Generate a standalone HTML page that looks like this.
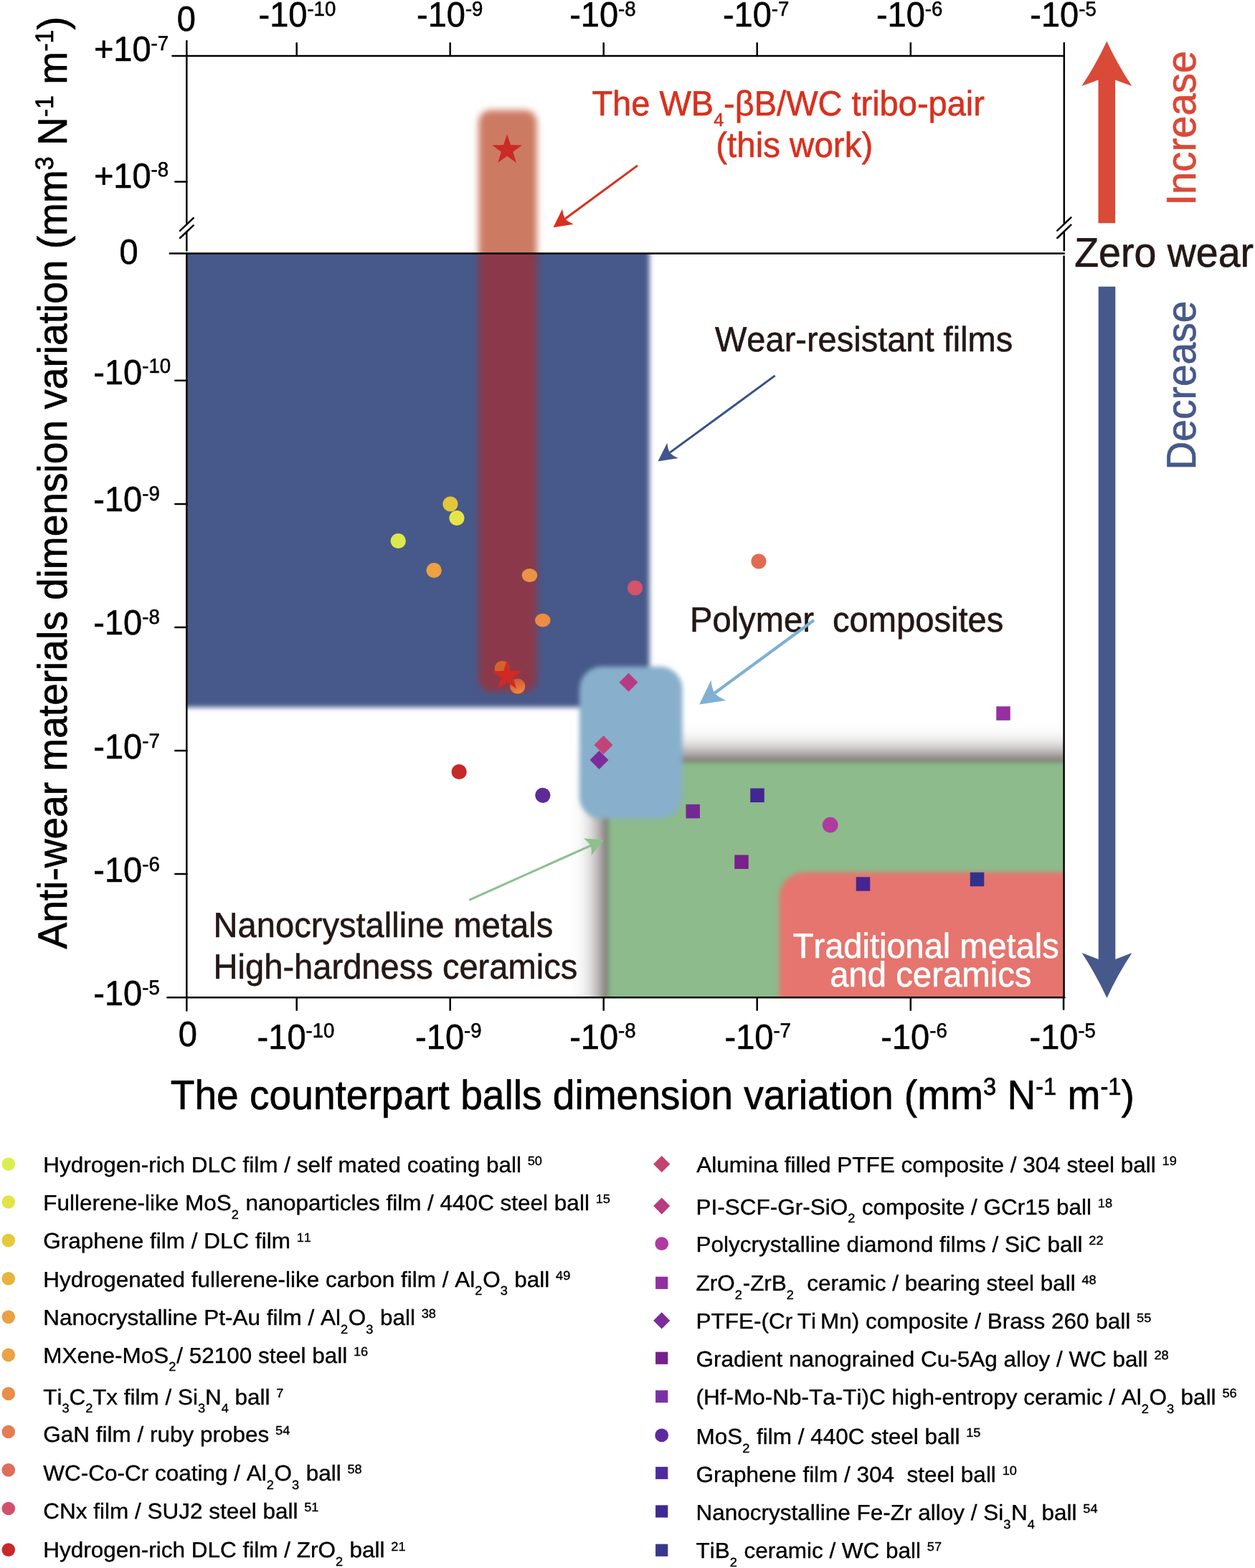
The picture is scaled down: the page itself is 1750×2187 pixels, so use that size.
<!DOCTYPE html>
<html lang="en"><head><meta charset="utf-8"><title>Wear map</title>
<style>html,body{margin:0;padding:0;background:#fff}body{width:1750px;height:2187px;overflow:hidden}svg{display:block}text{font-family:"Liberation Sans", sans-serif;font-kerning:none;text-rendering:geometricPrecision}</style></head><body>
<svg width="1750" height="2187" viewBox="0 0 1750 2187">
<defs>
<filter id="b15" x="-10%" y="-10%" width="120%" height="120%" color-interpolation-filters="sRGB"><feGaussianBlur stdDeviation="1.5"/></filter>
<filter id="b3" x="-30%" y="-30%" width="160%" height="160%" color-interpolation-filters="sRGB"><feGaussianBlur stdDeviation="3"/></filter>
<filter id="b35" x="-30%" y="-30%" width="160%" height="160%" color-interpolation-filters="sRGB"><feGaussianBlur stdDeviation="3.5"/></filter>
<filter id="b4" x="-30%" y="-30%" width="160%" height="160%" color-interpolation-filters="sRGB"><feGaussianBlur stdDeviation="4"/></filter>
<filter id="b5" x="-30%" y="-30%" width="160%" height="160%" color-interpolation-filters="sRGB"><feGaussianBlur stdDeviation="4.6"/></filter>
<filter id="b20" x="-30%" y="-30%" width="160%" height="160%" color-interpolation-filters="sRGB"><feGaussianBlur stdDeviation="20"/></filter>
<clipPath id="plot"><rect x="260.3" y="78" width="1223.5" height="1313.15"/></clipPath>
<clipPath id="below"><rect x="260.3" y="353.4" width="1223.5" height="1037.75"/></clipPath>
<clipPath id="above"><rect x="0" y="0" width="1750" height="353.4"/></clipPath>
<clipPath id="belowall"><rect x="0" y="353.4" width="1750" height="2000"/></clipPath>
<linearGradient id="gc" x1="0.3" y1="0" x2="0.6" y2="1"><stop offset="0" stop-color="#d4523a"/><stop offset="1" stop-color="#f08a3c"/></linearGradient>
</defs>
<rect width="1750" height="2187" fill="#fff"/>
<g clip-path="url(#below)"><rect x="100" y="200" width="805.5" height="786.5" fill="#47598a" filter="url(#b35)"/></g>
<g clip-path="url(#plot)">
<rect x="843.3" y="1058" width="900" height="600" fill="#231815" filter="url(#b20)"/>
<rect x="847.5" y="1062.5" width="900" height="600" fill="#8dbb8c" filter="url(#b3)"/>
<rect x="1086.5" y="1216.5" width="600" height="400" rx="36" fill="#e5756e" filter="url(#b3)"/>
</g>
<rect x="808" y="929.8" width="143.5" height="212.2" rx="31" fill="#88afcb" filter="url(#b3)"/>
<g clip-path="url(#above)"><rect x="667.3" y="153.5" width="81.4" height="811.5" rx="17" fill="#cc7b62" filter="url(#b5)"/></g>
<g clip-path="url(#belowall)"><rect x="667.3" y="153.5" width="81.4" height="811.5" rx="17" fill="#8b394a" filter="url(#b5)"/></g>
<g stroke="#000" stroke-width="2.5" fill="none" stroke-linecap="round">
<path d="M240.5 78 H1483.8"/>
<path d="M236.8 353.4 H1483.8"/>
<path d="M233.4 1391.15 H1484.4"/>
<path d="M260.3 57.2 V311"/>
<path d="M260.3 323.5 V349.6"/>
<path d="M260.3 353.4 V1409.6"/>
<path d="M1483.8 60 V311"/>
<path d="M1483.8 323.5 V349.3"/>
<path d="M1483.6 357.5 V1391.15"/>
<path d="M1483.1 1391.15 V1407.8"/>
<path d="M413.7 60.2 V78"/>
<path d="M413.7 1391.15 V1408.8"/>
<path d="M627.7 60.2 V78"/>
<path d="M627.7 1391.15 V1408.8"/>
<path d="M841.7 60.2 V78"/>
<path d="M841.7 1391.15 V1408.8"/>
<path d="M1055.7 60.2 V78"/>
<path d="M1055.7 1391.15 V1408.8"/>
<path d="M1269.8 60.2 V78"/>
<path d="M1269.8 1391.15 V1408.8"/>
<path d="M244.3 253.4 H260.3"/>
<path d="M244.3 530.8 H260.3"/>
<path d="M244.3 702.9 H260.3"/>
<path d="M244.3 874.9 H260.3"/>
<path d="M244.3 1047 H260.3"/>
<path d="M244.3 1219.1 H260.3"/>
<path d="M251.0 321.8 L269.7 304.1"/>
<path d="M251.0 332.0 L269.7 314.4"/>
<path d="M1474.3 321.6 L1493.4 303.4"/>
<path d="M1474.3 332.0 L1493.4 313.6"/>
</g>
<text transform="translate(246.8 43.3) scale(0.9615 1)" font-size="48.88" text-anchor="start" fill="#000" stroke="#000" stroke-width="0.59" stroke-linejoin="round">0</text>
<text transform="translate(248.7 1459) scale(0.9615 1)" font-size="48.88" text-anchor="start" fill="#000" stroke="#000" stroke-width="0.59" stroke-linejoin="round">0</text>
<text transform="translate(360.5 37.4) scale(0.9615 1)" font-size="48.88" text-anchor="start" fill="#000" stroke="#000" stroke-width="0.59" stroke-linejoin="round">-10<tspan dy="-15.4" font-size="28.704">-10</tspan></text>
<text transform="translate(358.6 1462.8) scale(0.9615 1)" font-size="48.88" text-anchor="start" fill="#000" stroke="#000" stroke-width="0.59" stroke-linejoin="round">-10<tspan dy="-15.4" font-size="28.704">-10</tspan></text>
<text transform="translate(581 37.4) scale(0.9615 1)" font-size="48.88" text-anchor="start" fill="#000" stroke="#000" stroke-width="0.59" stroke-linejoin="round">-10<tspan dy="-15.4" font-size="28.704">-9</tspan></text>
<text transform="translate(579.1 1462.8) scale(0.9615 1)" font-size="48.88" text-anchor="start" fill="#000" stroke="#000" stroke-width="0.59" stroke-linejoin="round">-10<tspan dy="-15.4" font-size="28.704">-9</tspan></text>
<text transform="translate(794.2 37.4) scale(0.9615 1)" font-size="48.88" text-anchor="start" fill="#000" stroke="#000" stroke-width="0.59" stroke-linejoin="round">-10<tspan dy="-15.4" font-size="28.704">-8</tspan></text>
<text transform="translate(794.2 1462.8) scale(0.9615 1)" font-size="48.88" text-anchor="start" fill="#000" stroke="#000" stroke-width="0.59" stroke-linejoin="round">-10<tspan dy="-15.4" font-size="28.704">-8</tspan></text>
<text transform="translate(1007.9 37.4) scale(0.9615 1)" font-size="48.88" text-anchor="start" fill="#000" stroke="#000" stroke-width="0.59" stroke-linejoin="round">-10<tspan dy="-15.4" font-size="28.704">-7</tspan></text>
<text transform="translate(1010.5 1462.8) scale(0.9615 1)" font-size="48.88" text-anchor="start" fill="#000" stroke="#000" stroke-width="0.59" stroke-linejoin="round">-10<tspan dy="-15.4" font-size="28.704">-7</tspan></text>
<text transform="translate(1221.9 37.4) scale(0.9615 1)" font-size="48.88" text-anchor="start" fill="#000" stroke="#000" stroke-width="0.59" stroke-linejoin="round">-10<tspan dy="-15.4" font-size="28.704">-6</tspan></text>
<text transform="translate(1228.3 1462.8) scale(0.9615 1)" font-size="48.88" text-anchor="start" fill="#000" stroke="#000" stroke-width="0.59" stroke-linejoin="round">-10<tspan dy="-15.4" font-size="28.704">-6</tspan></text>
<text transform="translate(1436.3 37.4) scale(0.9615 1)" font-size="48.88" text-anchor="start" fill="#000" stroke="#000" stroke-width="0.59" stroke-linejoin="round">-10<tspan dy="-15.4" font-size="28.704">-5</tspan></text>
<text transform="translate(1435.5 1462.8) scale(0.9615 1)" font-size="48.88" text-anchor="start" fill="#000" stroke="#000" stroke-width="0.59" stroke-linejoin="round">-10<tspan dy="-15.4" font-size="28.704">-5</tspan></text>
<text transform="translate(130.9 85.1) scale(0.9615 1)" font-size="48.88" text-anchor="start" fill="#000" stroke="#000" stroke-width="0.59" stroke-linejoin="round">+10<tspan dy="-15.4" font-size="28.704">-7</tspan></text>
<text transform="translate(130.9 261.6) scale(0.9615 1)" font-size="48.88" text-anchor="start" fill="#000" stroke="#000" stroke-width="0.59" stroke-linejoin="round">+10<tspan dy="-15.4" font-size="28.704">-8</tspan></text>
<text transform="translate(166.4 368) scale(0.9615 1)" font-size="48.88" text-anchor="start" fill="#000" stroke="#000" stroke-width="0.59" stroke-linejoin="round">0</text>
<text transform="translate(130.3 535.6) scale(0.9615 1)" font-size="48.88" text-anchor="start" fill="#000" stroke="#000" stroke-width="0.59" stroke-linejoin="round">-10<tspan dy="-15.4" font-size="28.704">-10</tspan></text>
<text transform="translate(130.3 713.4) scale(0.9615 1)" font-size="48.88" text-anchor="start" fill="#000" stroke="#000" stroke-width="0.59" stroke-linejoin="round">-10<tspan dy="-15.4" font-size="28.704">-9</tspan></text>
<text transform="translate(130.3 885.4) scale(0.9615 1)" font-size="48.88" text-anchor="start" fill="#000" stroke="#000" stroke-width="0.59" stroke-linejoin="round">-10<tspan dy="-15.4" font-size="28.704">-8</tspan></text>
<text transform="translate(130.3 1058) scale(0.9615 1)" font-size="48.88" text-anchor="start" fill="#000" stroke="#000" stroke-width="0.59" stroke-linejoin="round">-10<tspan dy="-15.4" font-size="28.704">-7</tspan></text>
<text transform="translate(130.3 1230) scale(0.9615 1)" font-size="48.88" text-anchor="start" fill="#000" stroke="#000" stroke-width="0.59" stroke-linejoin="round">-10<tspan dy="-15.4" font-size="28.704">-6</tspan></text>
<text transform="translate(130.3 1402.1) scale(0.9615 1)" font-size="48.88" text-anchor="start" fill="#000" stroke="#000" stroke-width="0.59" stroke-linejoin="round">-10<tspan dy="-15.4" font-size="28.704">-5</tspan></text>
<text transform="translate(237.8 1546.9) scale(0.9615 1)" font-size="57.3248" fill="#000" stroke="#000" stroke-width="0.69" stroke-linejoin="round">The counterpart balls dimension variation (mm<tspan dy="-19.5" font-size="33.904">3</tspan><tspan dy="19.5"> N</tspan><tspan dy="-19.5" font-size="33.904">-1</tspan><tspan dy="19.5"> m</tspan><tspan dy="-19.5" font-size="33.904">-1</tspan><tspan dy="19.5">)</tspan></text>
<text transform="translate(92.6 1323.5) rotate(-90) scale(0.9615 1)" font-size="57.2728" fill="#000" stroke="#000" stroke-width="0.69" stroke-linejoin="round">Anti-wear materials dimension variation (mm<tspan dy="-18.5" font-size="35.36">3</tspan><tspan dy="18.5"> N</tspan><tspan dy="-18.5" font-size="35.36">-1</tspan><tspan dy="18.5"> m</tspan><tspan dy="-18.5" font-size="35.36">-1</tspan><tspan dy="18.5">)</tspan></text>
<circle cx="555.3" cy="754.5" r="10.6" fill="#dbe94d"/>
<circle cx="628" cy="703" r="10.6" fill="#e2c63c"/>
<circle cx="637" cy="722.5" r="10.6" fill="#e6e547"/>
<circle cx="605.2" cy="795.5" r="10.6" fill="#eda141"/>
<ellipse cx="738.5" cy="802.5" rx="10.8" ry="9.4" fill="#ea9448"/>
<ellipse cx="756.8" cy="865.2" rx="10.8" ry="9.4" fill="#ec8c45"/>
<circle cx="700.3" cy="932.3" r="10.6" fill="#d4622c"/>
<circle cx="721.8" cy="957.2" r="10.6" fill="url(#gc)"/>
<polygon points="707.20,920.70 712.25,935.74 728.12,935.90 715.38,945.36 720.13,960.50 707.20,951.30 694.27,960.50 699.02,945.36 686.28,935.90 702.15,935.74" fill="#d02a24"/>
<polygon points="707.10,187.20 712.15,202.24 728.02,202.40 715.28,211.86 720.03,227.00 707.10,217.80 694.17,227.00 698.92,211.86 686.18,202.40 702.05,202.24" fill="#cb2a26"/>
<circle cx="885.6" cy="820" r="10.6" fill="#d5536b"/>
<circle cx="1058" cy="783" r="10.6" fill="#e06b52"/>
<circle cx="640.2" cy="1076.5" r="10.6" fill="#c62a27"/>
<circle cx="756.9" cy="1109.3" r="10.6" fill="#5e2a98"/>
<circle cx="1157.7" cy="1150.6" r="10.9" fill="#b03aa0"/>
<path d="M863.5 951.8 L876.5 938.8 L889.5 951.8 L876.5 964.8Z" fill="#b73a84"/>
<path d="M828.5 1039 L841.5 1026 L854.5 1039 L841.5 1052Z" fill="#c24477"/>
<path d="M822.5 1060 L835.5 1047 L848.5 1060 L835.5 1073Z" fill="#7d2c9c"/>
<rect x="1389.25" y="985.25" width="19.5" height="19.5" fill="#962fa0"/>
<rect x="956.45" y="1121.85" width="19.5" height="19.5" fill="#732994"/>
<rect x="1046.25" y="1099.55" width="19.5" height="19.5" fill="#432593"/>
<rect x="1024.25" y="1192.45" width="19.5" height="19.5" fill="#7a1f8c"/>
<rect x="1193.75" y="1223.25" width="19.5" height="19.5" fill="#452593"/>
<rect x="1352.75" y="1216.75" width="19.5" height="19.5" fill="#33308c"/>
<text transform="translate(825.4 161.4) scale(0.9615 1)" font-size="48.88" fill="#d8301e" stroke="#d8301e" stroke-width="0.59" stroke-linejoin="round">The WB<tspan dy="15" font-size="26">4</tspan><tspan dy="-15">-βB/WC tribo-pair</tspan></text>
<text transform="translate(1107.7 218.5) scale(0.9615 1)" font-size="49.4" fill="#d8301e" text-anchor="middle" stroke="#d8301e" stroke-width="0.59" stroke-linejoin="round">(this work)</text>
<text transform="translate(997 490) scale(0.9615 1)" font-size="48.88" fill="#231815" stroke="#231815" stroke-width="0.59" stroke-linejoin="round">Wear-resistant films</text>
<text transform="translate(962 880.8) scale(0.9615 1)" font-size="49.036" fill="#231815" xml:space="preserve" stroke="#231815" stroke-width="0.59" stroke-linejoin="round">Polymer  composites</text>
<text transform="translate(297.6 1307.2) scale(0.9615 1)" font-size="48.984" fill="#231815" stroke="#231815" stroke-width="0.59" stroke-linejoin="round">Nanocrystalline metals</text>
<text transform="translate(297.6 1364.6) scale(0.9615 1)" font-size="48.984" fill="#231815" stroke="#231815" stroke-width="0.59" stroke-linejoin="round">High-hardness ceramics</text>
<text transform="translate(1291.3 1336) scale(0.9615 1)" font-size="48.88" fill="#fff" text-anchor="middle" stroke="#fff" stroke-width="0.59" stroke-linejoin="round">Traditional metals</text>
<text transform="translate(1297.8 1375.6) scale(0.9615 1)" font-size="49.192" fill="#fff" text-anchor="middle" stroke="#fff" stroke-width="0.59" stroke-linejoin="round">and ceramics</text>
<text transform="translate(1498.2 371.8) scale(0.9615 1)" font-size="57.72" fill="#231815" stroke="#231815" stroke-width="0.69" stroke-linejoin="round">Zero wear</text>
<text transform="translate(1666.8 286.6) rotate(-90) scale(0.9731 1)" font-size="57.824" fill="#d94a38" stroke="#d94a38" stroke-width="0.69" stroke-linejoin="round">Increase</text>
<text transform="translate(1667.2 655.6) rotate(-90) scale(0.9615 1)" font-size="57.408" fill="#47598a" stroke="#47598a" stroke-width="0.69" stroke-linejoin="round">Decrease</text>
<path d="M889.0 230.9 L787.9 305.2" stroke="#d8301e" stroke-width="3" fill="none"/>
<path d="M771.4 317.3 L784.2 291.5 Q784.8 299.3 787.9 305.2 Q792.6 309.9 799.8 312.8Z" fill="#d8301e"/>
<path d="M1080.7 523.9 L933.9 631.4" stroke="#36508a" stroke-width="3" fill="none"/>
<path d="M917.4 643.5 L930.3 617.7 Q930.8 625.5 933.9 631.4 Q938.6 636.2 945.9 639.0Z" fill="#42558a"/>
<path d="M1135.0 865.0 L996.4 966.8" stroke="#7fb0d2" stroke-width="4.2" fill="none"/>
<path d="M975.2 982.4 L991.6 948.4 Q992.2 958.9 996.4 966.8 Q1002.7 973.2 1012.5 976.9Z" fill="#7fb0d2"/>
<path d="M654.2 1255.3 L823.8 1179.3" stroke="#8cc08e" stroke-width="3.1" fill="none"/>
<path d="M841.8 1171.2 L824.6 1193.3 Q825.7 1185.6 823.8 1179.3 Q820.3 1173.7 813.9 1169.4Z" fill="#8cc08e"/>
<path d="M1543.30 57.40 Q1528.24 90.02 1508.30 119.90 L1531.50 111.40 V311.20 H1555.10 V111.40 L1578.30 119.90 Q1558.36 90.02 1543.30 57.40Z" fill="#d94a38"/>
<path d="M1543.50 1392.00 Q1528.45 1359.19 1508.50 1329.10 L1531.70 1338.00 V399.80 H1555.30 V1338.00 L1578.50 1329.10 Q1558.55 1359.19 1543.50 1392.00Z" fill="#47598a"/>
<circle cx="11.8" cy="1623.7" r="9.3" fill="#dcee4e"/>
<text transform="translate(60.3 1634.9) scale(1.0365 1)" font-size="30.3992" fill="#000" xml:space="preserve" stroke="#000" stroke-width="0.37" stroke-linejoin="round"><tspan>Hydrogen-rich DLC film / self mated coating ball</tspan><tspan> </tspan><tspan dy="-9.8" font-size="17.576">50</tspan></text>
<circle cx="11.8" cy="1676.5" r="9.3" fill="#e3e443"/>
<text transform="translate(60.3 1688.1) scale(1.0365 1)" font-size="30.3992" fill="#000" xml:space="preserve" stroke="#000" stroke-width="0.37" stroke-linejoin="round"><tspan>Fullerene-like MoS</tspan><tspan dy="11.6" font-size="17.576">2</tspan><tspan dy="-11.6" dx="0.7"> nanoparticles film / 440C steel ball</tspan><tspan> </tspan><tspan dy="-9.8" font-size="17.576">15</tspan></text>
<circle cx="11.8" cy="1730.1" r="9.3" fill="#e4c93c"/>
<text transform="translate(60.3 1741.3) scale(1.0365 1)" font-size="30.3992" fill="#000" xml:space="preserve" stroke="#000" stroke-width="0.37" stroke-linejoin="round"><tspan>Graphene film / DLC film</tspan><tspan> </tspan><tspan dy="-9.8" font-size="17.576">11</tspan></text>
<circle cx="11.8" cy="1783.3" r="9.3" fill="#e8b33e"/>
<text transform="translate(60.3 1794.6) scale(1.0365 1)" font-size="30.3992" fill="#000" xml:space="preserve" stroke="#000" stroke-width="0.37" stroke-linejoin="round"><tspan>Hydrogenated fullerene-like carbon film / Al</tspan><tspan dy="11.6" font-size="17.576">2</tspan><tspan dy="-11.6" dx="0.7">O</tspan><tspan dy="11.6" font-size="17.576">3</tspan><tspan dy="-11.6" dx="0.7"> ball</tspan><tspan> </tspan><tspan dy="-9.8" font-size="17.576">49</tspan></text>
<circle cx="11.8" cy="1836.8" r="9.3" fill="#eba043"/>
<text transform="translate(60.3 1848.2) scale(1.0365 1)" font-size="30.3992" fill="#000" xml:space="preserve" stroke="#000" stroke-width="0.37" stroke-linejoin="round"><tspan>Nanocrystalline Pt-Au film / Al</tspan><tspan dy="11.6" font-size="17.576">2</tspan><tspan dy="-11.6" dx="0.7">O</tspan><tspan dy="11.6" font-size="17.576">3</tspan><tspan dy="-11.6" dx="0.7"> ball</tspan><tspan> </tspan><tspan dy="-9.8" font-size="17.576">38</tspan></text>
<circle cx="11.8" cy="1889.9" r="9.3" fill="#eba244"/>
<text transform="translate(60.3 1900.6) scale(1.0365 1)" font-size="30.3992" fill="#000" xml:space="preserve" stroke="#000" stroke-width="0.37" stroke-linejoin="round"><tspan>MXene-MoS</tspan><tspan dy="11.6" font-size="17.576">2</tspan><tspan dy="-11.6" dx="0.7">/ 52100 steel ball</tspan><tspan> </tspan><tspan dy="-9.8" font-size="17.576">16</tspan></text>
<circle cx="11.8" cy="1943.9" r="9.3" fill="#e98d4a"/>
<text transform="translate(60.3 1958.6) scale(1.0365 1)" font-size="30.3992" fill="#000" xml:space="preserve" stroke="#000" stroke-width="0.37" stroke-linejoin="round"><tspan>Ti</tspan><tspan dy="11.6" font-size="17.576">3</tspan><tspan dy="-11.6" dx="-0.2">C</tspan><tspan dy="11.6" font-size="17.576">2</tspan><tspan dy="-11.6" dx="-0.2">Tx film / Si</tspan><tspan dy="11.6" font-size="17.576">3</tspan><tspan dy="-11.6" dx="-0.2">N</tspan><tspan dy="11.6" font-size="17.576">4</tspan><tspan dy="-11.6" dx="-0.2"> ball</tspan><tspan> </tspan><tspan dy="-9.8" font-size="17.576">7</tspan></text>
<circle cx="11.8" cy="1997" r="9.3" fill="#e47d54"/>
<text transform="translate(60.3 2011.2) scale(1.0365 1)" font-size="30.3992" fill="#000" xml:space="preserve" stroke="#000" stroke-width="0.37" stroke-linejoin="round"><tspan>GaN film / ruby probes</tspan><tspan> </tspan><tspan dy="-9.8" font-size="17.576">54</tspan></text>
<circle cx="11.8" cy="2050.4" r="9.3" fill="#df6d5e"/>
<text transform="translate(60.3 2065.2) scale(1.0365 1)" font-size="30.3992" fill="#000" xml:space="preserve" stroke="#000" stroke-width="0.37" stroke-linejoin="round"><tspan>WC-Co-Cr coating / Al</tspan><tspan dy="11.6" font-size="17.576">2</tspan><tspan dy="-11.6" dx="0.7">O</tspan><tspan dy="11.6" font-size="17.576">3</tspan><tspan dy="-11.6" dx="0.7"> ball</tspan><tspan> </tspan><tspan dy="-9.8" font-size="17.576">58</tspan></text>
<circle cx="11.8" cy="2104" r="9.3" fill="#d2506e"/>
<text transform="translate(60.3 2118) scale(1.0365 1)" font-size="30.3992" fill="#000" xml:space="preserve" stroke="#000" stroke-width="0.37" stroke-linejoin="round"><tspan>CNx film / SUJ2 steel ball</tspan><tspan> </tspan><tspan dy="-9.8" font-size="17.576">51</tspan></text>
<circle cx="11.8" cy="2161.6" r="9.3" fill="#c8282a"/>
<text transform="translate(60.3 2172.4) scale(1.0365 1)" font-size="30.3992" fill="#000" xml:space="preserve" stroke="#000" stroke-width="0.37" stroke-linejoin="round"><tspan>Hydrogen-rich DLC film / ZrO</tspan><tspan dy="11.6" font-size="17.576">2</tspan><tspan dy="-11.6" dx="0.7"> ball</tspan><tspan> </tspan><tspan dy="-9.8" font-size="17.576">21</tspan></text>
<path d="M911.1 1623.7 L922.7 1612.1 L934.3 1623.7 L922.7 1635.3Z" fill="#c4436e"/>
<text transform="translate(971.3 1634.9) scale(1.0365 1)" font-size="30.3992" fill="#000" xml:space="preserve" stroke="#000" stroke-width="0.37" stroke-linejoin="round"><tspan>Alumina filled PTFE composite / 304 steel ball</tspan><tspan> </tspan><tspan dy="-9.8" font-size="17.576">19</tspan></text>
<path d="M911.1 1682.1 L922.7 1670.5 L934.3 1682.1 L922.7 1693.7Z" fill="#b83a80"/>
<text transform="translate(970.6 1693.6) scale(1.0365 1)" font-size="30.3992" fill="#000" xml:space="preserve" stroke="#000" stroke-width="0.37" stroke-linejoin="round"><tspan>PI-SCF-Gr-SiO</tspan><tspan dy="11.6" font-size="17.576">2</tspan><tspan dy="-11.6" dx="0.7"> composite / GCr15 ball</tspan><tspan> </tspan><tspan dy="-9.8" font-size="17.576">18</tspan></text>
<circle cx="922.7" cy="1734.7" r="9.4" fill="#b03aa0"/>
<text transform="translate(970.6 1746.2) scale(1.0365 1)" font-size="30.3992" fill="#000" xml:space="preserve" stroke="#000" stroke-width="0.37" stroke-linejoin="round"><tspan>Polycrystalline diamond films / SiC ball</tspan><tspan> </tspan><tspan dy="-9.8" font-size="17.576">22</tspan></text>
<rect x="914.1" y="1780.7" width="17.2" height="17.2" fill="#912fa0"/>
<text transform="translate(970.6 1800.3) scale(1.0365 1)" font-size="30.3992" fill="#000" xml:space="preserve" stroke="#000" stroke-width="0.37" stroke-linejoin="round"><tspan>ZrO</tspan><tspan dy="11.6" font-size="17.576">2</tspan><tspan dy="-11.6" dx="0.7">-ZrB</tspan><tspan dy="11.6" font-size="17.576">2</tspan><tspan dy="-11.6" dx="0.7">&#160; ceramic / bearing steel ball</tspan><tspan> </tspan><tspan dy="-9.8" font-size="17.576">48</tspan></text>
<path d="M911.1 1841.9 L922.7 1830.3 L934.3 1841.9 L922.7 1853.5Z" fill="#7d2d9b"/>
<text transform="translate(970.6 1853.4) scale(1.0365 1)" font-size="30.3992" fill="#000" xml:space="preserve" stroke="#000" stroke-width="0.37" stroke-linejoin="round"><tspan>PTFE-(Cr<tspan dx="-2.2"> </tspan>Ti<tspan dx="-2.6"> </tspan>Mn) composite / Brass 260 ball</tspan><tspan> </tspan><tspan dy="-9.8" font-size="17.576">55</tspan></text>
<rect x="914.1" y="1885.6" width="17.2" height="17.2" fill="#76208c"/>
<text transform="translate(970.6 1906.2) scale(1.0365 1)" font-size="30.3992" fill="#000" xml:space="preserve" stroke="#000" stroke-width="0.37" stroke-linejoin="round"><tspan>Gradient nanograined Cu-5Ag alloy / WC ball</tspan><tspan> </tspan><tspan dy="-9.8" font-size="17.576">28</tspan></text>
<rect x="914.1" y="1939.2" width="17.2" height="17.2" fill="#7a30a5"/>
<text transform="translate(970.6 1959.2) scale(1.0365 1)" font-size="30.3992" fill="#000" xml:space="preserve" stroke="#000" stroke-width="0.37" stroke-linejoin="round"><tspan>(Hf-Mo-Nb-Ta-Ti)C high-entropy ceramic / Al</tspan><tspan dy="11.6" font-size="17.576">2</tspan><tspan dy="-11.6" dx="0.7">O</tspan><tspan dy="11.6" font-size="17.576">3</tspan><tspan dy="-11.6" dx="0.7"> ball</tspan><tspan> </tspan><tspan dy="-9.8" font-size="17.576">56</tspan></text>
<circle cx="922.7" cy="2001.9" r="9.4" fill="#5c2a9e"/>
<text transform="translate(970.6 2014.1) scale(1.0365 1)" font-size="30.3992" fill="#000" xml:space="preserve" stroke="#000" stroke-width="0.37" stroke-linejoin="round"><tspan>MoS</tspan><tspan dy="11.6" font-size="17.576">2</tspan><tspan dy="-11.6" dx="0.7"> film / 440C steel ball</tspan><tspan> </tspan><tspan dy="-9.8" font-size="17.576">15</tspan></text>
<rect x="914.1" y="2045.9" width="17.2" height="17.2" fill="#4e2aa0"/>
<text transform="translate(970.6 2066.5) scale(1.0365 1)" font-size="30.3992" fill="#000" xml:space="preserve" stroke="#000" stroke-width="0.37" stroke-linejoin="round"><tspan>Graphene film / 304&#160; steel ball</tspan><tspan> </tspan><tspan dy="-9.8" font-size="17.576">10</tspan></text>
<rect x="914.1" y="2099.4" width="17.2" height="17.2" fill="#3e2894"/>
<text transform="translate(970.6 2120) scale(1.0365 1)" font-size="30.3992" fill="#000" xml:space="preserve" stroke="#000" stroke-width="0.37" stroke-linejoin="round"><tspan>Nanocrystalline Fe-Zr alloy / Si</tspan><tspan dy="11.6" font-size="17.576">3</tspan><tspan dy="-11.6" dx="0.7">N</tspan><tspan dy="11.6" font-size="17.576">4</tspan><tspan dy="-11.6" dx="0.7"> ball</tspan><tspan> </tspan><tspan dy="-9.8" font-size="17.576">54</tspan></text>
<rect x="914.1" y="2153.6" width="17.2" height="17.2" fill="#37378e"/>
<text transform="translate(970.6 2173.1) scale(1.0365 1)" font-size="30.3992" fill="#000" xml:space="preserve" stroke="#000" stroke-width="0.37" stroke-linejoin="round"><tspan>TiB</tspan><tspan dy="11.6" font-size="17.576">2</tspan><tspan dy="-11.6" dx="0.7"> ceramic / WC ball</tspan><tspan> </tspan><tspan dy="-9.8" font-size="17.576">57</tspan></text>
